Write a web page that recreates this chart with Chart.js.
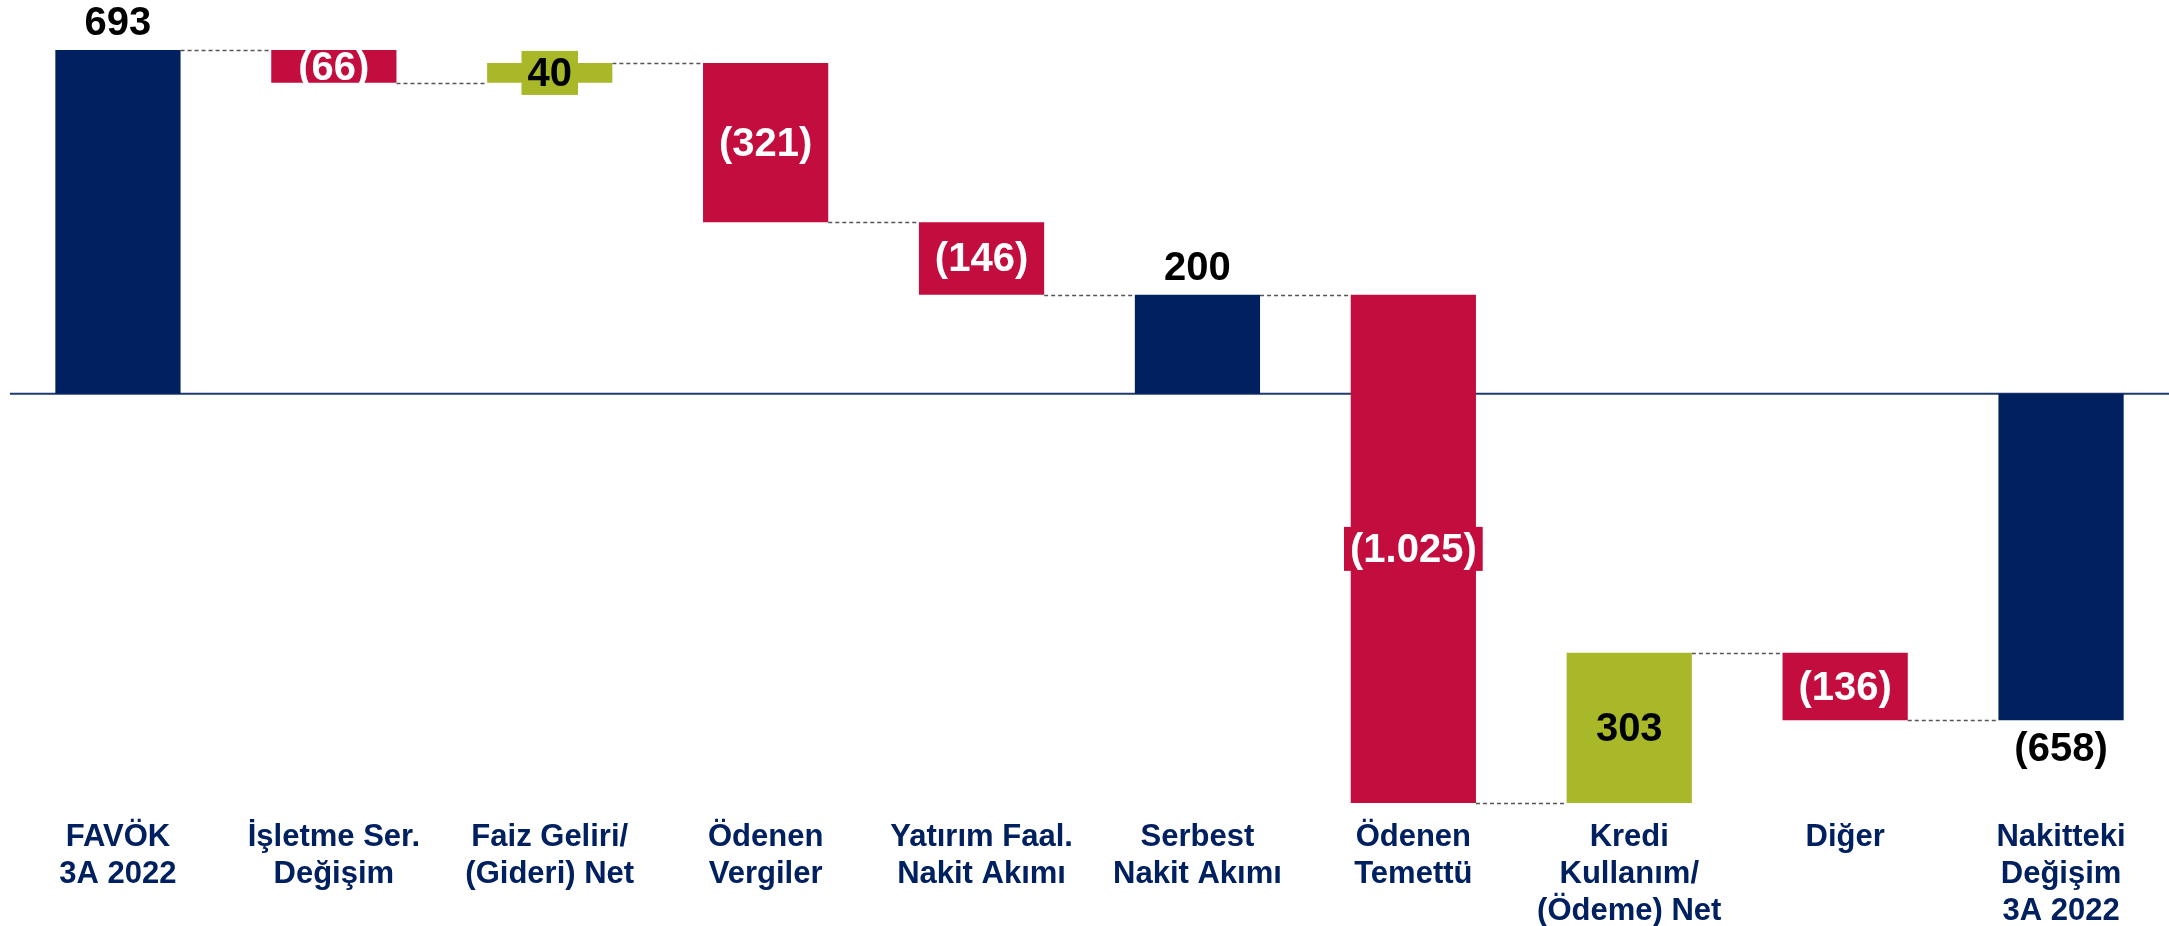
<!DOCTYPE html>
<html>
<head>
<meta charset="utf-8">
<title>Nakit Akışı 3A 2022</title>
<style>
  html, body { margin: 0; padding: 0; background: #fff; }
  #wrap { width: 2169px; height: 926px; }
</style>
<script src="https://cdn.jsdelivr.net/npm/chart.js@4.4.1/dist/chart.umd.min.js"></script>
</head>
<body>
<div id="wrap"><canvas id="cashChart" width="2169" height="926"></canvas></div>
<script>
// Waterfall data (mn TL)
const categories = [
  ['FAVÖK', '3A 2022'],
  ['İşletme Ser.', 'Değişim'],
  ['Faiz Geliri/', '(Gideri) Net'],
  ['Ödenen', 'Vergiler'],
  ['Yatırım Faal.', 'Nakit Akımı'],
  ['Serbest', 'Nakit Akımı'],
  ['Ödenen', 'Temettü'],
  ['Kredi', 'Kullanım/', '(Ödeme) Net'],
  ['Diğer'],
  ['Nakitteki', 'Değişim', '3A 2022']
];
const values = [693, -66, 40, -321, -146, 200, -1025, 303, -136, -658];
const isTotal = [true, false, false, false, false, true, false, false, false, true];

const NAVY = '#002060';
const RED = '#C30D3E';
const GREEN = '#A8B828';
const FONT = '"Liberation Sans", Arial, sans-serif';

// floating bars: [start, end]
let running = 0;
const ranges = values.map((v, i) => {
  if (isTotal[i]) { running = v; return [0, v]; }
  const start = running;
  running += v;
  return [start, running];
});

const barColors = values.map((v, i) => isTotal[i] ? NAVY : (v < 0 ? RED : GREEN));

function fmt(v) {
  const s = Math.abs(v).toString().replace(/\B(?=(\d{3})+(?!\d))/g, '.');
  return v < 0 ? '(' + s + ')' : s;
}

const waterfallExtras = {
  id: 'waterfallExtras',
  beforeDatasetsDraw(chart) {
    const { ctx, chartArea, scales: { y } } = chart;
    const bars = chart.getDatasetMeta(0).data;
    ctx.save();
    // zero line
    const y0 = y.getPixelForValue(0);
    ctx.strokeStyle = '#1F3A70';
    ctx.lineWidth = 2;
    ctx.beginPath();
    ctx.moveTo(chartArea.left, y0);
    ctx.lineTo(chartArea.right, y0);
    ctx.stroke();
    // dashed connectors
    ctx.strokeStyle = '#555';
    ctx.lineWidth = 1.5;
    ctx.setLineDash([4, 3]);
    for (let i = 0; i < bars.length - 1; i++) {
      const a = bars[i], b = bars[i + 1];
      const ly = Math.round(y.getPixelForValue(ranges[i][1])) + 0.5;
      ctx.beginPath();
      ctx.moveTo(a.x + a.width / 2, ly);
      ctx.lineTo(b.x - b.width / 2, ly);
      ctx.stroke();
    }
    ctx.restore();
  },
  afterDatasetsDraw(chart) {
    const { ctx } = chart;
    const bars = chart.getDatasetMeta(0).data;
    ctx.save();
    ctx.font = 'bold 40px ' + FONT;
    ctx.textAlign = 'center';
    ctx.textBaseline = 'middle';
    bars.forEach((bar, i) => {
      const v = values[i];
      const text = fmt(v);
      const top = Math.min(bar.y, bar.base);
      const bottom = Math.max(bar.y, bar.base);
      if (isTotal[i]) {
        const ty = v >= 0 ? top - 28 : bottom + 28;
        ctx.fillStyle = '#000';
        ctx.fillText(text, bar.x, ty + 2);
      } else {
        const cy = (top + bottom) / 2;
        const w = ctx.measureText(text).width + 12;
        // label box only shows where the text overflows the bar
        if (bottom - top < 28 || w > bar.width) {
          ctx.fillStyle = barColors[i];
          ctx.fillRect(bar.x - w / 2, cy - 22, w, 44);
        }
        ctx.fillStyle = v < 0 ? '#fff' : '#000';
        ctx.fillText(text, bar.x, cy + 2);
      }
    });
    ctx.restore();
  }
};

new Chart(document.getElementById('cashChart').getContext('2d'), {
  type: 'bar',
  data: {
    labels: categories,
    datasets: [{
      data: ranges,
      backgroundColor: barColors,
      borderWidth: 0,
      categoryPercentage: 1,
      barPercentage: 0.58
    }]
  },
  options: {
    responsive: false,
    animation: false,
    devicePixelRatio: 1,
    layout: { padding: { left: 10, right: 0, top: 0, bottom: 0 } },
    plugins: {
      legend: { display: false },
      tooltip: { enabled: false }
    },
    scales: {
      x: {
        grid: { display: false, drawTicks: false },
        border: { display: false },
        ticks: {
          autoSkip: false,
          maxRotation: 0,
          minRotation: 0,
          padding: 3,
          color: NAVY,
          font: { family: FONT, size: 31, weight: 'bold', lineHeight: 37 / 31 }
        },
        afterFit(axis) { axis.height = 110; }
      },
      y: {
        display: false,
        min: -851,
        max: 794
      }
    }
  },
  plugins: [waterfallExtras]
});
</script>
</body>
</html>
